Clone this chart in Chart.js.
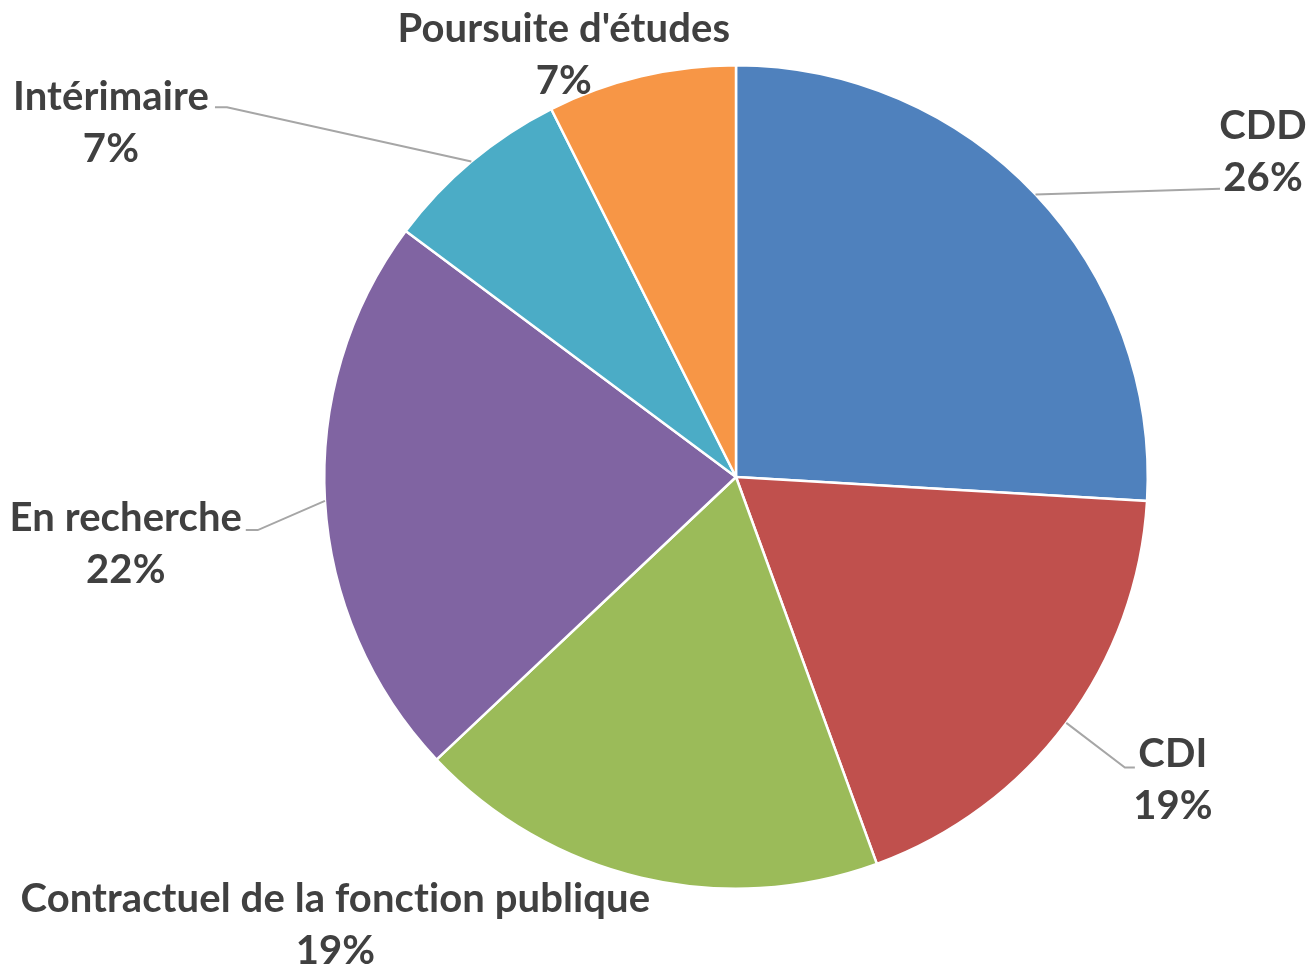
<!DOCTYPE html>
<html>
<head>
<meta charset="utf-8">
<script src="https://cdn.jsdelivr.net/npm/chart.js@4"></script>
<style>
  html, body { margin: 0; padding: 0; background: #fff; }
  #wrap { width: 1309px; height: 964px; position: relative; }
</style>
</head>
<body>
<div id="wrap"><canvas id="chart-pie"></canvas></div>
<script>
// ─── DATA ────────────────────────────────────────────────────────────────────
const labels = ['CDD', 'CDI', 'Contractuel de la fonction publique', 'En recherche', 'Intérimaire', "Poursuite d'études"];
const counts = [7, 5, 5, 6, 2, 2];
const colors = ['#4F81BD', '#C0504D', '#9BBB59', '#8064A2', '#4BACC6', '#F79646'];

// label block centre, in units of radius from the pie centre
const labelPos = [[1.28, -0.79], [1.061, 0.737], [-0.973, 1.088], [-1.482, 0.163], [-1.518, -0.859], [-0.418, -1.024]];
// where the leader line meets the label (px from label centre), null = no line
const leaderAt = [[-43, 37, 0], [-38, -13, -10], null, [120, -14, 12], [104, -16, 12], null];

// ─── LABELS PLUGIN ───────────────────────────────────────────────────────────
const outsideLabels = {
  id: 'outsideLabels',
  afterDraw(chart) {
    const ctx = chart.ctx;
    const meta = chart.getDatasetMeta(0);
    const total = counts.reduce((a, b) => a + b, 0);
    ctx.save();
    meta.data.forEach((arc, i) => {
      const { x, y, outerRadius: r, startAngle, endAngle } = arc.getProps(['x', 'y', 'outerRadius', 'startAngle', 'endAngle'], true);
      const mid = (startAngle + endAngle) / 2;
      const lx = x + labelPos[i][0] * r;
      const ly = y + labelPos[i][1] * r;

      // leader line
      if (leaderAt[i]) {
        const [ox, oy, stub] = leaderAt[i];
        const ex = lx + ox, ey = ly + oy;
        ctx.strokeStyle = '#a6a6a6';
        ctx.lineWidth = 2;
        ctx.beginPath();
        ctx.moveTo(x + Math.cos(mid) * r, y + Math.sin(mid) * r);
        ctx.lineTo(ex + stub, ey);
        ctx.lineTo(ex, ey);
        ctx.stroke();
      }

      const pct = Math.round(counts[i] / total * 100) + '%';
      ctx.fillStyle = '#404040';
      ctx.font = 'bold 40px Lato';
      ctx.letterSpacing = '0.1px'; // keeps "ti" from turning into a ligature
      ctx.textAlign = 'center';
      ctx.textBaseline = 'middle';
      ctx.fillText(labels[i], lx, ly - 26);
      ctx.fillText(pct, lx, ly + 26);
    });
    ctx.restore();
  }
};

// ─── CHART ───────────────────────────────────────────────────────────────────
new Chart(document.getElementById('chart-pie'), {
  type: 'pie',
  data: {
    labels,
    datasets: [{
      data: counts,
      backgroundColor: colors,
      borderColor: '#ffffff',
      borderWidth: 2.5
    }]
  },
  options: {
    responsive: true,
    maintainAspectRatio: false,
    animation: false,
    layout: { padding: { top: 64, bottom: 74, left: 298, right: 135 } },
    plugins: { legend: { display: false }, tooltip: { enabled: false } }
  },
  plugins: [outsideLabels]
});
</script>
</body>
</html>
